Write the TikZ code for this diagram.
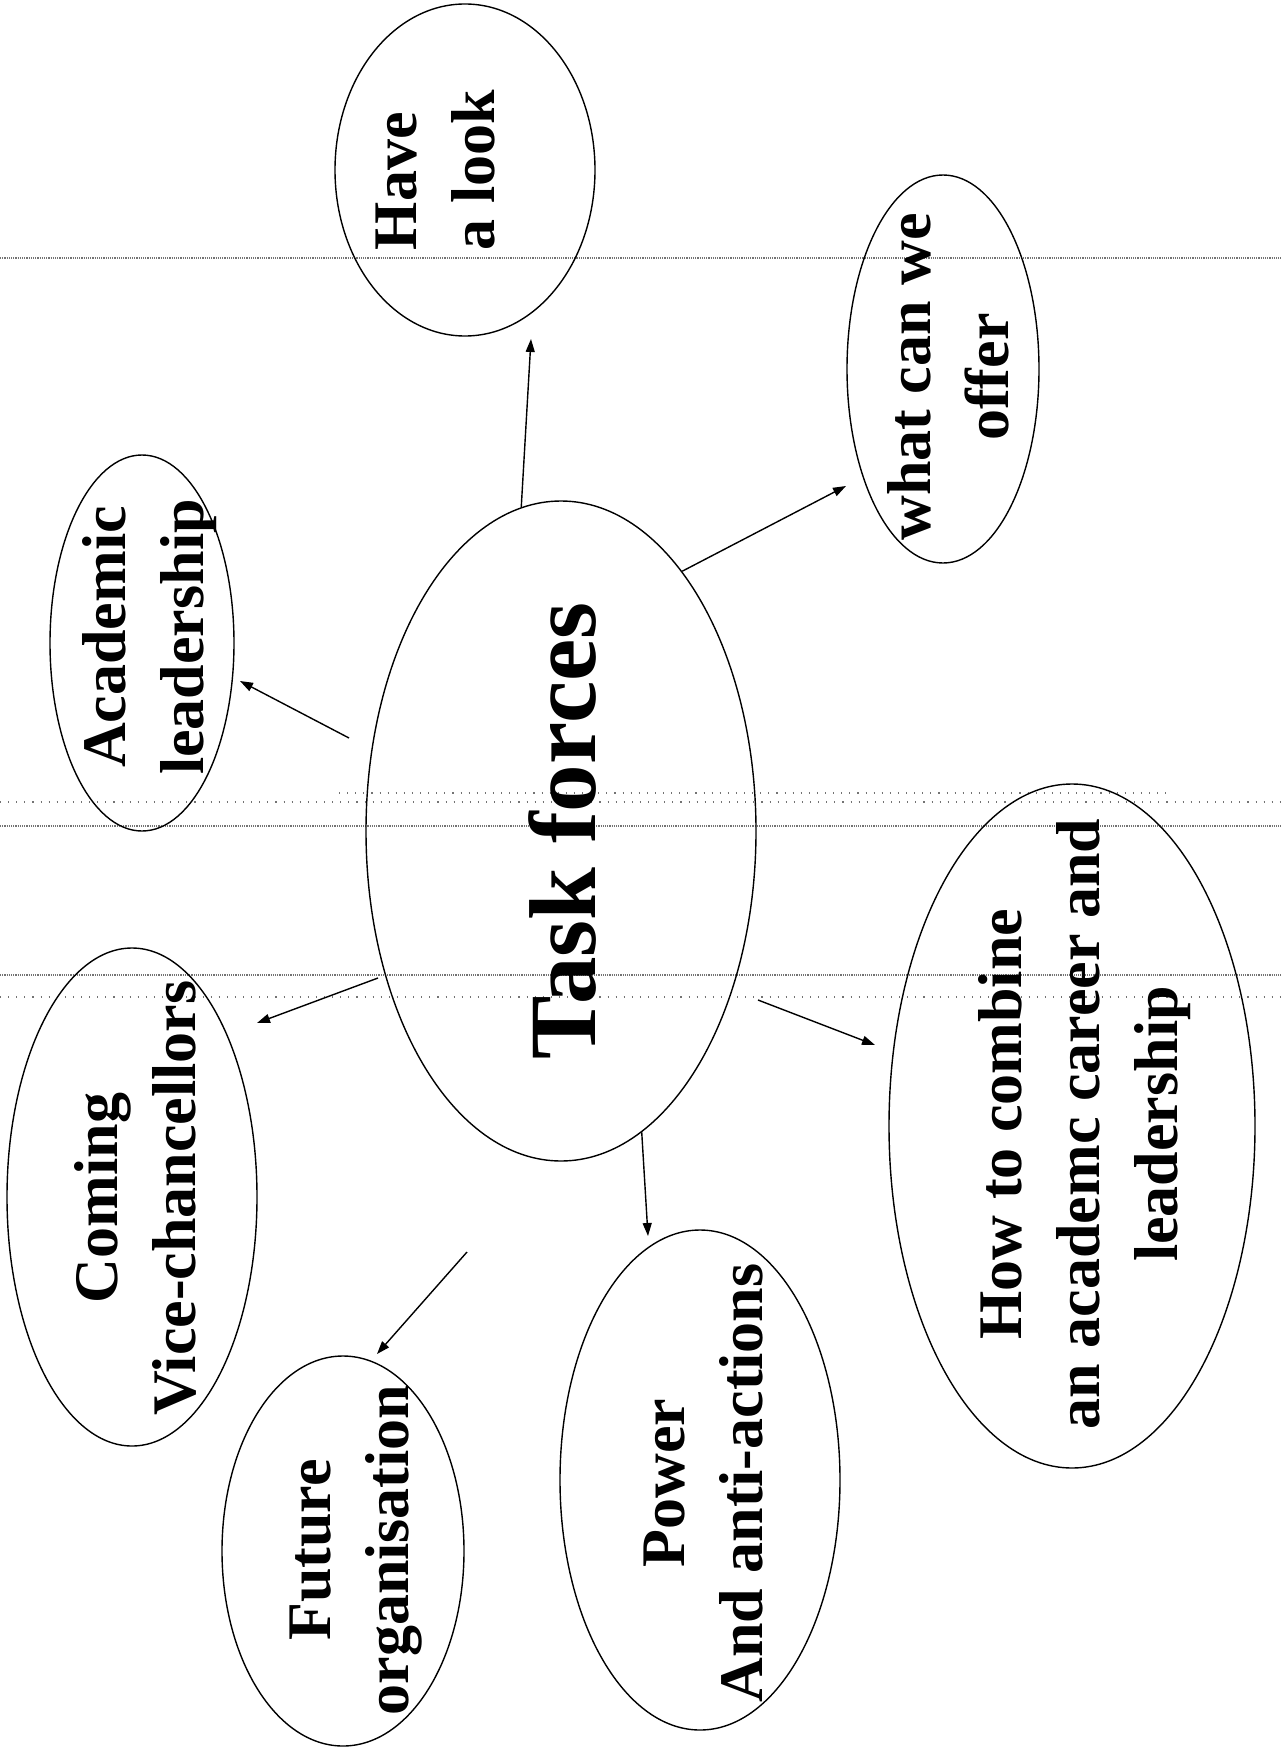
\documentclass[tikz,border=0pt]{standalone}
\usepackage{fontspec}
\setmainfont{Liberation Serif}
\usetikzlibrary{arrows.meta,shapes.geometric}
\begin{document}
\begin{tikzpicture}[x=1pt,y=-1pt,
  bubble/.style={draw=black, line width=1.4pt, ellipse, inner sep=0pt},
  lbl/.style={rotate=90, align=center, inner sep=0pt, font=\fontsize{62}{78}\selectfont\bfseries},
  arr/.style={draw=black, line width=1.4pt, -{Triangle[length=13pt,width=9pt]}},
  dense/.style={draw=black!55, line width=1.1pt, dash pattern=on 1.1pt off 1.1pt},
  sparse/.style={draw=black!55, line width=1.1pt, dash pattern=on 1.1pt off 7pt}]
\fill[white] (0,0) rectangle (1281,1752);
\useasboundingbox (0,0) rectangle (1281,1752);

% scan lines
\draw[dense] (0,258) -- (1281,258);
\draw[sparse] (339,793) -- (1168,793);
\draw[sparse] (0,802) -- (1281,802);
\draw[dense] (0,826) -- (1281,826);
\draw[dense] (0,975) -- (1281,975);
\draw[sparse] (0,997) -- (1281,997);

% ellipses
\node[bubble, minimum width=390pt, minimum height=660pt] (tf) at (561,831) {};
\node[bubble, minimum width=260pt, minimum height=332pt] (have) at (465,170) {};
\node[bubble, minimum width=192pt, minimum height=388pt] (offer) at (943,369) {};
\node[bubble, minimum width=184pt, minimum height=376pt] (acad) at (142,643) {};
\node[bubble, minimum width=250pt, minimum height=498pt] (com) at (132,1197) {};
\node[bubble, minimum width=242pt, minimum height=390pt] (fut) at (343,1551) {};
\node[bubble, minimum width=280pt, minimum height=500pt] (pow) at (700,1480) {};
\node[bubble, minimum width=366pt, minimum height=684pt] (how) at (1072,1126) {};

% texts
\node[rotate=90, inner sep=0pt, font=\fontsize{95}{110}\selectfont\bfseries] (tfT) at (563,831) {Task forces};
\node[lbl, align=left] (haveT) at (435,170) {Have\\a look};
\node[lbl] (offerT) at (948,377) {what can we\\offer};
\node[lbl] (acadT) at (150,637) {Academic\\leadership};
\node[lbl] (comT) at (135,1198) {Coming\\Vice-chancellors};
\node[lbl] (futT) at (356,1550) {Future\\organisation};
\node[lbl] (powT) at (703,1483) {Power\\And anti-actions};
\node[lbl] (howT) at (1085,1124) {How to combine\\an academc career and\\leadership};

% connector ends
\coordinate (eHave) at (531,339);
\coordinate (eOffer) at (846,486);
\coordinate (sAcad) at (349,738);
\coordinate (eAcad) at (240,681);
\coordinate (sCom) at (378,978);
\coordinate (eCom) at (257,1023);
\coordinate (ePow) at (648,1236);
\coordinate (sFut) at (467,1252);
\coordinate (eFut) at (377,1354);
\coordinate (sHow) at (758,1000);
\coordinate (eHow) at (875,1045);

\draw[arr] (tf.97.8) -- (eHave);
\draw[arr] (tf.65.6) -- (eOffer);
\draw[arr] (sAcad) -- (eAcad);
\draw[arr] (sCom) -- (eCom);
\draw[arr] (tf.285.9) -- (ePow);
\draw[arr] (sFut) -- (eFut);
\draw[arr] (sHow) -- (eHow);
\end{tikzpicture}
\end{document}
